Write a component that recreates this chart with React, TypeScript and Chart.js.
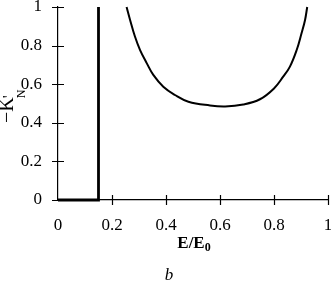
import React, { useEffect, useRef } from "react";
import { Chart, registerables } from "chart.js";

Chart.register(...registerables);

const stepX = [0, 0.15, 0.15];
const stepY = [0, 0, 1];
const curveX = [0.254, 0.267, 0.285, 0.304, 0.329, 0.353, 0.39, 0.433, 0.483, 0.563, 0.619, 0.686, 0.748, 0.8, 0.834, 0.859, 0.884, 0.902, 0.915, 0.923];
const curveY = [1.0, 0.933, 0.847, 0.777, 0.708, 0.648, 0.587, 0.544, 0.509, 0.49, 0.485, 0.495, 0.522, 0.578, 0.639, 0.691, 0.777, 0.864, 0.933, 1.0];
const xTicks = [0, 0.2, 0.4, 0.6, 0.8, 1];
const yTicks = [0, 0.2, 0.4, 0.6, 0.8, 1];
const xTitleMain = "E/E";
const xTitleSub = "0";
const yTitleMain = "\u2212K";
const yTitleSub = "N";
const yTitleSup = "'";
const panelLabel = "b";

const FONT = "'Liberation Serif', 'Times New Roman', serif";

const decorPlugin = {
  id: "decor",
  afterDraw(chart: any) {
    const ctx = chart.ctx;
    const xs = chart.scales.x;
    const ys = chart.scales.y;
    const x0 = xs.getPixelForValue(0);
    const y0 = ys.getPixelForValue(0);
    ctx.save();
    ctx.strokeStyle = "#000";
    ctx.lineWidth = 1.2;
    ctx.beginPath();
    yTicks.forEach((v) => {
      const py = Math.round(ys.getPixelForValue(v)) + 0.5;
      ctx.moveTo(x0 - 6, py);
      ctx.lineTo(x0 + 6, py);
    });
    xTicks.forEach((v) => {
      if (v === 0) return;
      const px = Math.round(xs.getPixelForValue(v)) + 0.5;
      ctx.moveTo(px, y0 - 5);
      ctx.lineTo(px, y0 + 5);
    });
    ctx.stroke();

    ctx.fillStyle = "#000";
    ctx.textBaseline = "alphabetic";
    // x title
    ctx.font = `bold 17px ${FONT}`;
    const mainW = ctx.measureText(xTitleMain).width;
    ctx.font = `bold 12px ${FONT}`;
    const subW = ctx.measureText(xTitleSub).width;
    const cx = 194;
    const startX = cx - (mainW + subW) / 2;
    ctx.font = `bold 17px ${FONT}`;
    ctx.textAlign = "left";
    ctx.fillText(xTitleMain, startX, 248);
    ctx.font = `bold 12px ${FONT}`;
    ctx.fillText(xTitleSub, startX + mainW, 251);

    // y title rotated
    ctx.save();
    ctx.translate(13, 123);
    ctx.rotate(-Math.PI / 2);
    ctx.font = `20px ${FONT}`;
    const yMainW = ctx.measureText(yTitleMain).width;
    ctx.fillText(yTitleMain, 0, 0);
    ctx.font = `12px ${FONT}`;
    ctx.fillText(yTitleSub, yMainW - 1, 12);
    ctx.font = `16px ${FONT}`;
    ctx.fillText(yTitleSup, yMainW - 1, 1);
    ctx.restore();

    // panel label
    ctx.font = `italic 17px ${FONT}`;
    ctx.textAlign = "center";
    ctx.fillText(panelLabel, 169, 280);
    ctx.restore();
  },
};

export default function App() {
  const ref = useRef<HTMLCanvasElement | null>(null);
  useEffect(() => {
    if (!ref.current) return;
    const chart = new Chart(ref.current, {
      type: "line",
      data: {
        datasets: [
          {
            data: stepX.map((x, i) => ({ x, y: stepY[i] })),
            borderColor: "#000",
            borderWidth: 2.8,
            pointRadius: 0,
            tension: 0,
            fill: false,
            clip: false,
          },
          {
            data: curveX.map((x, i) => ({ x, y: curveY[i] })),
            borderColor: "#000",
            borderWidth: 2,
            pointRadius: 0,
            tension: 0.4,
            fill: false,
            clip: false,
          },
        ],
      },
      options: {
        responsive: false,
        animation: false,
        devicePixelRatio: 1,
        layout: { padding: { top: 7, right: 3, left: 0, bottom: 0 } },
        plugins: { legend: { display: false }, tooltip: { enabled: false }, title: { display: false } },
        scales: {
          x: {
            type: "linear",
            min: 0,
            max: 1,
            afterBuildTicks: (s: any) => {
              s.ticks = xTicks.map((v) => ({ value: v }));
            },
            afterFit: (s: any) => {
              s.height = 88;
              s.paddingLeft = 0;
              s.paddingRight = 0;
              s.paddingTop = 0;
              s.paddingBottom = 0;
            },
            grid: { display: false, drawTicks: false },
            border: { display: true, color: "#000", width: 1.2 },
            ticks: {
              color: "#000",
              font: { family: FONT, size: 17 },
              padding: 15,
              maxRotation: 0,
              autoSkip: false,
              callback: (v: any) => String(Math.round(Number(v) * 10) / 10),
            },
          },
          y: {
            type: "linear",
            min: 0,
            max: 1,
            afterBuildTicks: (s: any) => {
              s.ticks = yTicks.map((v) => ({ value: v }));
            },
            afterFit: (s: any) => {
              s.width = 58;
              s.paddingLeft = 0;
              s.paddingRight = 0;
              s.paddingTop = 0;
              s.paddingBottom = 0;
            },
            grid: { display: false, drawTicks: false },
            border: { display: true, color: "#000", width: 1.2 },
            ticks: {
              color: "#000",
              font: { family: FONT, size: 17 },
              padding: 16,
              autoSkip: false,
              callback: (v: any) => String(Math.round(Number(v) * 10) / 10),
            },
          },
        },
      },
      plugins: [decorPlugin],
    } as any);
    return () => chart.destroy();
  }, []);
  return (
    <div style={{ position: "absolute", left: 0, top: 0, width: 331, height: 288, background: "#fff" }}>
      <canvas ref={ref} width={331} height={288} />
    </div>
  );
}
